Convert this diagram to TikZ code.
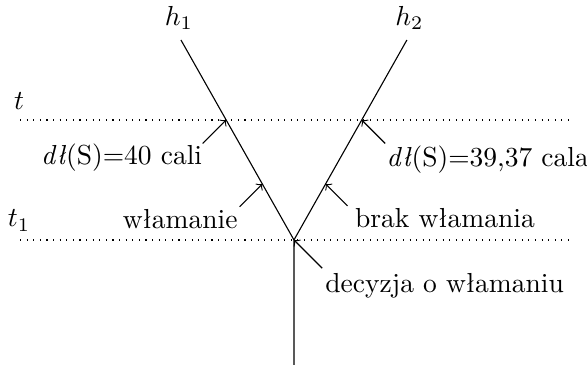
\documentclass[tikz,border=0pt]{standalone}
\usepackage{fontspec}
\usetikzlibrary{arrows,calc,positioning}

\tikzset{
  lab/.style={inner sep=0pt},
  tline/.style={dotted},
}

\begin{document}
\begin{tikzpicture}[scale=1.0,>=to]
    \useasboundingbox (0,0) rectangle (7.5,4.74);
    % time lines
    \draw[tline] (0.256,3.207) -- (7.282,3.207);
    \draw[tline] (0.256,1.674) -- (7.282,1.674);
    \node[anchor=base] (tT) at (0.243,3.347) {$t$};
    \node[anchor=base] (tS) at (0.243,1.840) {$t_1$};
    % branches
    \coordinate (fork) at (3.756,1.674);
    \coordinate (root) at (3.756,0.077);
    \coordinate (topA) at (2.312,4.229);
    \coordinate (topB) at (5.199,4.229);
    \node[anchor=base] (hA) at (2.287,4.420) {$h_1$};
    \node[anchor=base] (hB) at (5.231,4.420) {$h_2$};
    \draw (root) -- (fork) -- (topA);
    \draw (fork) -- (topB);
    % points on the branches
    \coordinate (pA) at ($(fork)!0.6!(topA)$);
    \coordinate (qA) at ($(fork)!0.28!(topA)$);
    \coordinate (pB) at ($(fork)!0.6!(topB)$);
    \coordinate (qB) at ($(fork)!0.28!(topB)$);
    \coordinate (sA) at ($(pA)+(-0.3,-0.3)$);
    \coordinate (rA) at ($(qA)+(-0.29,-0.29)$);
    \coordinate (sB) at ($(pB)+(0.3,-0.3)$);
    \coordinate (rB) at ($(qB)+(0.28,-0.28)$);
    \coordinate (sF) at ($(fork)+(0.36,-0.36)$);
    % labels
    \node[lab,below left=0 and 0 of sA] (dlA) {\textit{dł}(S)=40 cali};
    \node[lab,below right=0.02 and 0.01 of sB] (dlB) {\textit{dł}(S)=39,37 cala};
    \node[lab,below left=0.03 and 0.02 of rA] (wl) {włamanie};
    \node[lab,below right=0.03 and 0.09 of rB] (bw) {brak włamania};
    \node[lab,below right=0.06 and 0.035 of sF] (dec) {decyzja o włamaniu};
    \draw[->] (sA) -- (pA);
    \draw[->] (sB) -- (pB);
    \draw[->] (rA) -- (qA);
    \draw[->] (rB) -- (qB);
    \draw[->] (sF) -- (fork);
  \end{tikzpicture}
\end{document}
